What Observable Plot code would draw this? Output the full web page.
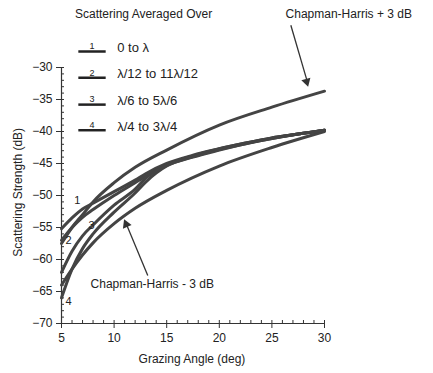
<!DOCTYPE html>
<html><head><meta charset="utf-8">
<script src="https://cdn.jsdelivr.net/npm/d3@7"></script>
<script src="https://cdn.jsdelivr.net/npm/@observablehq/plot@0.6"></script>
<style>body{margin:0;background:#fff}svg{display:block}</style>
</head><body><div id="chart"></div>
<script>
const chAngles = [5, 6, 7, 8, 10, 12, 15, 20, 25, 30];
const chPlus3 = [-57.5, -55, -53, -51, -48, -45.6, -42.9, -39, -36.2, -33.7];
const chMinus3 = [-64, -61.5, -59.3, -57.4, -54.4, -52, -49.2, -45.4, -42.5, -40];
const avgAngles = [5, 6, 7, 8, 10, 12, 13, 15, 17.5, 20, 22.5, 25, 27.5, 30];
const line1 = [-55.2, -53.5, -52.1, -51.2, -49.4, -47.6, -46.6, -45.0, -43.7, -42.7, -41.8, -41.0, -40.4, -39.8];
const line2 = [-57, -55, -53.4, -52.2, -50, -48, -47, -45.2, -43.8, -42.7, -41.8, -41.0, -40.4, -39.8];
const line3 = [-62, -58.7, -56.3, -54.6, -51.5, -49.0, -47.3, -45.3, -43.9, -42.8, -41.9, -41.1, -40.4, -39.8];
const line4 = [-66, -61.5, -58.3, -56, -52.6, -49.6, -47.9, -45.4, -44.0, -42.9, -41.9, -41.1, -40.4, -39.8];
const legendNums = ["1", "2", "3", "4"];
const legendLabels = ["0 to λ", "λ/12 to 11λ/12", "λ/6 to 5λ/6", "λ/4 to 3λ/4"];
const legendTitle = "Scattering Averaged Over";
const xTicks = [5, 10, 15, 20, 25, 30];
const yTicks = [-70, -65, -60, -55, -50, -45, -40, -35, -30];

const series = [];
const add = (name, xs, ys) => xs.forEach((x, i) => series.push({name, x, y: ys[i]}));
add("CH+3", chAngles, chPlus3);
add("CH-3", chAngles, chMinus3);
add("1", avgAngles, line1);
add("2", avgAngles, line2);
add("3", avgAngles, line3);
add("4", avgAngles, line4);

const legY = [-27.5, -31.6, -35.8, -39.8];
const legend = legendLabels.map((t, i) => ({num: legendNums[i], label: t, y: legY[i]}));

const col = "#444";
const font = "Liberation Sans, Arial, Helvetica, sans-serif";

const chart = Plot.plot({
  width: 433, height: 373,
  marginLeft: 61, marginRight: 109, marginTop: 67, marginBottom: 50,
  style: {fontFamily: font, fontSize: "12px", color: "#222", background: "#fff"},
  x: {domain: [5, 30]},
  y: {domain: [-70, -30]},
  marks: [
    Plot.axisX({ticks: d3.range(5, 31), tickSize: -3, text: null, label: null, stroke: "#333"}),
    Plot.axisY({ticks: d3.range(-70, -29), tickSize: 3, tickPadding: 0, text: null, label: null, anchor: "left", dx: 3, stroke: "#333"}),
    Plot.axisX({ticks: xTicks, tickSize: 5, tickPadding: 5, fontSize: 12, label: null, stroke: "#333"}),
    Plot.axisY({ticks: yTicks, tickSize: 5, tickPadding: 4, fontSize: 12, label: null, stroke: "#333"}),
    Plot.ruleX([5], {stroke: "#333", strokeWidth: 1.2}),
    Plot.ruleY([-70], {stroke: "#333", strokeWidth: 1.2}),
    Plot.line(series, {x: "x", y: "y", z: "name", curve: "monotone-x", stroke: col, strokeWidth: 3, strokeLinecap: "round"}),
    Plot.text(["1", "2", "3", "4"], {x: [6.5, 5.67, 7.85, 5.67], y: [-50.8, -57.0, -54.7, -66.6], text: d => d, fontSize: 11, fill: "#222"}),
    Plot.text([legendTitle], {x: 12.8, y: -21.7, text: d => d, fontSize: 12, fill: "#222", clip: false}),
    Plot.link(legend, {x1: 6.6, x2: 9.2, y1: "y", y2: "y", stroke: "#222", strokeWidth: 2.5, clip: false}),
    Plot.text(legend, {x: 7.9, y: d => d.y + 0.8, text: "num", fontSize: 9, fill: "#222", clip: false}),
    Plot.text(legend, {x: 10.3, y: d => d.y + 0.6, text: "label", fontSize: 13, textAnchor: "start", fill: "#222", clip: false}),
    Plot.text(["Chapman-Harris + 3 dB"], {x: 26.3, y: -21.7, text: d => d, textAnchor: "start", fontSize: 12, fill: "#222", clip: false}),
    Plot.link([0], {x1: 26.8, y1: -23.4, x2: 28.4, y2: -32.4, stroke: "#333", strokeWidth: 1.3}),
    Plot.dot([0], {x: 28.3, y: -32.2, symbol: "triangle2", r: 4.5, rotate: 164, fill: "#333", stroke: "none"}),
    Plot.text(["Chapman-Harris - 3 dB"], {x: 7.76, y: -63.9, text: d => d, textAnchor: "start", fontSize: 12, fill: "#222"}),
    Plot.link([0], {x1: 13.2, y1: -62.5, x2: 11.2, y2: -54.6, stroke: "#333", strokeWidth: 1.3}),
    Plot.dot([0], {x: 11.15, y: -54.5, symbol: "triangle2", r: 4.5, rotate: -23, fill: "#333", stroke: "none"}),
    Plot.text(["Grazing Angle (deg)"], {x: 17.4, y: -75.5, text: d => d, fontSize: 12, fill: "#222", clip: false}),
    Plot.text(["Scattering Strength (dB)"], {x: 5, y: -49.5, dx: -43, rotate: -90, text: d => d, fontSize: 12, fill: "#222", clip: false})
  ]
});
document.getElementById("chart").append(chart);
</script>
</body></html>
